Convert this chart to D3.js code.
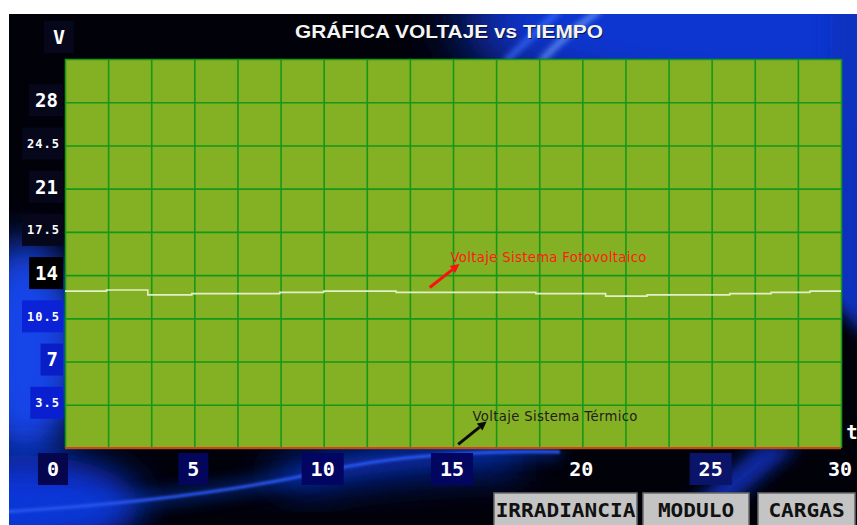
<!DOCTYPE html>
<html><head><meta charset="utf-8">
<script src="https://cdn.jsdelivr.net/npm/d3@7"></script>
<style>
html,body{margin:0;padding:0;background:#fff;}
svg{display:block;}
</style></head><body>
<svg id="chart" width="857" height="525"></svg>
<script>
// Sampled readings (time in s, voltage in V)
const timeSec      = [0, 1.6, 3.2, 4.9, 8.3, 10, 12.8, 18.2, 20.9, 22.5, 25.7, 27.3, 28.8, 30];
const pvVolts      = [12.7, 12.8, 12.4, 12.5, 12.6, 12.7, 12.6, 12.5, 12.3, 12.4, 12.5, 12.6, 12.7, 12.7];
const thermalVolts = [0, 0, 0, 0, 0, 0, 0, 0, 0, 0, 0, 0, 0, 0];

// Axis ticks
const yTickValues = [28, 24.5, 21, 17.5, 14, 10.5, 7, 3.5];
const xTickValues = [0, 5, 10, 15, 20, 25, 30];
const yTitle = "V";
const xTitle = "t";
const chartTitle = "GRÁFICA VOLTAJE vs TIEMPO";
const pvLabel = "Voltaje Sistema Fotovoltaico";
const thermalLabel = "Voltaje Sistema Térmico";
const buttonLabels = ["IRRADIANCIA", "MODULO", "CARGAS"];

const svg = d3.select("#chart");
const W = 857, H = 525;
const plot = {left: 65, right: 841, top: 59, bottom: 448};

const x = d3.scaleLinear().domain([0, 30]).range([plot.left, plot.right]);
const y = d3.scaleLinear().domain([0, 31.5]).range([plot.bottom, plot.top]);

// ---------- backdrop ----------
const defs = svg.append("defs");
[["b30", 30], ["b18", 18], ["b8", 8], ["b3", 3], ["b1", 1]].forEach(([id, s]) => {
  defs.append("filter").attr("id", id).attr("x", "-50%").attr("y", "-50%")
    .attr("width", "200%").attr("height", "200%")
    .append("feGaussianBlur").attr("stdDeviation", s);
});
defs.append("clipPath").attr("id", "panel")
  .append("rect").attr("x", 9).attr("y", 14).attr("width", W - 9).attr("height", H - 14);

const bg = svg.append("g").attr("clip-path", "url(#panel)");
bg.append("rect").attr("x", 9).attr("y", 14).attr("width", W - 9).attr("height", H - 14).attr("fill", "#01010a");
// top-right glow
bg.append("ellipse").attr("cx", 780).attr("cy", 20).attr("rx", 320).attr("ry", 100)
  .attr("fill", "#0b36d0").attr("filter", "url(#b30)");
bg.append("path").attr("d", "M830,0 L870,0 L870,340 L830,300 Z")
  .attr("fill", "#0a30c0").attr("filter", "url(#b8)");
// bright streaks in the header
bg.append("path").attr("d", "M540,62 Q565,35 600,10").attr("fill", "none")
  .attr("stroke", "#7aa8ff").attr("stroke-width", 4).attr("filter", "url(#b3)");
bg.append("path").attr("d", "M505,62 Q530,38 560,10").attr("fill", "none")
  .attr("stroke", "#3a6cff").attr("stroke-width", 5).attr("filter", "url(#b3)");
// left glow
bg.append("ellipse").attr("cx", 25).attr("cy", 350).attr("rx", 55).attr("ry", 110)
  .attr("fill", "#1244e8").attr("filter", "url(#b18)");
bg.append("ellipse").attr("cx", 20).attr("cy", 505).attr("rx", 120).attr("ry", 50)
  .attr("fill", "#0c34d8").attr("filter", "url(#b18)");
// bottom swoosh
bg.append("path").attr("d", "M260,470 Q380,440 520,448 L520,470 Q400,470 300,490 Z")
  .attr("fill", "#0a30c8").attr("filter", "url(#b18)");
bg.append("path").attr("d", "M0,512 Q200,500 330,470 Q420,450 560,452").attr("fill", "none")
  .attr("stroke", "#2f62ff").attr("stroke-width", 3).attr("filter", "url(#b1)");
bg.append("path").attr("d", "M0,512 Q200,500 330,470 Q420,450 560,452").attr("fill", "none")
  .attr("stroke", "#1040d0").attr("stroke-width", 12).attr("opacity", 0.6).attr("filter", "url(#b8)");
// diagonal band behind the 25 label
bg.append("path").attr("d", "M660,530 L700,530 L800,445 L760,445 Z")
  .attr("fill", "#0a2aa8").attr("filter", "url(#b8)");

// ---------- plot area ----------
svg.append("rect").attr("x", plot.left).attr("y", plot.top)
  .attr("width", plot.right - plot.left).attr("height", plot.bottom - plot.top)
  .attr("fill", "#84b023");

const gridX = d3.range(0, 19).map(i => i * 30 / 18);
const gridY = d3.range(0, 10).map(i => i * 3.5);

const gx = svg.append("g").attr("transform", `translate(0,${plot.bottom})`)
  .call(d3.axisBottom(x).tickValues(gridX).tickSize(-(plot.bottom - plot.top)).tickFormat(""));
const gy = svg.append("g").attr("transform", `translate(${plot.left},0)`)
  .call(d3.axisLeft(y).tickValues(gridY).tickSize(-(plot.right - plot.left)).tickFormat(""));
[gx, gy].forEach(g => {
  g.select(".domain").remove();
  g.selectAll(".tick line").attr("stroke", "#15981a").attr("stroke-width", 1.6);
});

// ---------- series ----------
const pts = (vals) => timeSec.map((t, i) => [t, vals[i]]);
const line = d3.line().x(d => x(d[0])).y(d => y(d[1])).curve(d3.curveStepAfter);

svg.append("path").datum(pts(thermalVolts)).attr("d", line)
  .attr("fill", "none").attr("stroke", "#d8401a").attr("stroke-width", 2);
svg.append("path").datum(pts(pvVolts)).attr("d", line)
  .attr("fill", "none").attr("stroke", "#e4eec8").attr("stroke-width", 1.6);

// ---------- annotations ----------
function arrow(t0, v0, t1, v1, color) {
  const x0 = x(t0), y0 = y(v0), x1 = x(t1), y1 = y(v1);
  const ang = Math.atan2(y1 - y0, x1 - x0);
  const L = 9, Wd = 4.5;
  const bx = x1 - L * Math.cos(ang), by = y1 - L * Math.sin(ang);
  svg.append("line").attr("x1", x0).attr("y1", y0).attr("x2", bx).attr("y2", by)
    .attr("stroke", color).attr("stroke-width", 3);
  svg.append("path").attr("fill", color).attr("d",
    `M${x1},${y1} L${bx - Wd * Math.sin(ang)},${by + Wd * Math.cos(ang)} L${bx + Wd * Math.sin(ang)},${by - Wd * Math.cos(ang)} Z`);
}
arrow(14.1, 13.0, 15.25, 14.9, "#ff1010");
svg.append("text").attr("x", x(14.9)).attr("y", y(15.1))
  .attr("font-family", "DejaVu Sans").attr("font-size", 13.2).attr("fill", "#ff1a14")
  .attr("textLength", 196).attr("lengthAdjust", "spacing")
  .text(pvLabel);

arrow(15.2, 0.3, 16.3, 2.15, "#0a0a0a");
svg.append("text").attr("x", x(15.75)).attr("y", y(2.2))
  .attr("font-family", "DejaVu Sans").attr("font-size", 13.2).attr("fill", "#1e1e1e")
  .attr("textLength", 165).attr("lengthAdjust", "spacing")
  .text(thermalLabel);

// ---------- title ----------
const titleAttrs = sel => sel.attr("x", 449).attr("y", 38).attr("text-anchor", "middle")
  .attr("font-family", "Liberation Sans, Arial, sans-serif").attr("font-weight", "bold")
  .attr("font-size", 19).attr("textLength", 308).attr("lengthAdjust", "spacingAndGlyphs");
svg.append("text").call(titleAttrs).attr("fill", "#000").attr("opacity", 0.6)
  .attr("transform", "translate(1,1)").text(chartTitle);
svg.append("text").call(titleAttrs).attr("fill", "#f4f4f4").text(chartTitle);

// ---------- tick labels with boxes ----------
const mono = "DejaVu Sans Mono, monospace";
function boxedLabel(cx, cy, txt, size, boxFill, anchor, padL, padR, spacing) {
  const g = svg.append("g");
  const r = g.append("rect").attr("fill", boxFill);
  const t = g.append("text").attr("x", cx).attr("y", cy).attr("dy", "0.36em")
    .attr("text-anchor", anchor).attr("font-family", mono).attr("font-weight", "bold")
    .attr("font-size", size).attr("letter-spacing", spacing || 0).attr("fill", "#fff").text(txt);
  const bb = t.node().getBBox();
  r.attr("x", bb.x - padL).attr("y", cy - 16).attr("width", bb.width + padL + padR).attr("height", 32);
  if (boxFill === "none") r.remove();
}

const yBoxFill = {28: "#07071c", 24.5: "#07071c", 21: "#07071c", 17.5: "#07071c",
                  14: "#000000", 10.5: "#0c22d6", 7: "#0a1ec8", 3.5: "#0a20d0"};
yTickValues.forEach((v, i) => {
  const big = i % 2 === 0;
  boxedLabel(big ? 58 : 60, y(v) - 2, String(v), big ? 19 : 12, yBoxFill[v], "end",
    big ? 6 : 5, big ? 5 : 3, big ? 0 : 1);
});
boxedLabel(59, 37, yTitle, 20, "#07071c", "middle", 9, 9, 0);

const xBoxFill = {0: "#05064e", 5: "#03065a", 10: "#020662", 15: "#020660", 20: "none", 25: "#0a1468", 30: "none"};
xTickValues.forEach(v => {
  const cx = v === 0 ? x(v) - 12 : x(v) - 1;
  boxedLabel(cx, 469, String(v), 20, xBoxFill[v], "middle", 9, 9, 0);
});
svg.append("text").attr("x", 852).attr("y", 432).attr("dy", "0.36em").attr("text-anchor", "middle")
  .attr("font-family", mono).attr("font-weight", "bold").attr("font-size", 19).attr("fill", "#fff").text(xTitle);

// ---------- buttons ----------
const btnX = d3.scaleOrdinal().domain(buttonLabels).range([[494, 637], [643, 749], [758, 855]]);
buttonLabels.forEach(lbl => {
  const [x0, x1] = btnX(lbl);
  const g = svg.append("g");
  g.append("rect").attr("x", x0).attr("y", 493).attr("width", x1 - x0).attr("height", 34)
    .attr("fill", "#c4c4c4").attr("stroke", "#6a6a6a").attr("stroke-width", 1.5);
  g.append("text").attr("x", (x0 + x1) / 2).attr("y", 510).attr("dy", "0.36em")
    .attr("text-anchor", "middle").attr("font-family", mono).attr("font-weight", "bold")
    .attr("font-size", 20).attr("fill", "#111")
    .attr("textLength", lbl.length * 12.7).attr("lengthAdjust", "spacingAndGlyphs").text(lbl);
});
</script>
</body></html>
